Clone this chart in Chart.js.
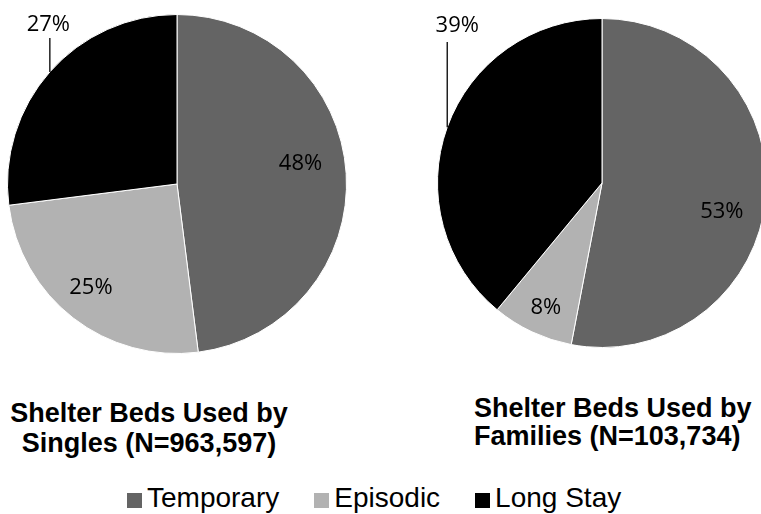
<!DOCTYPE html>
<html>
<head>
<meta charset="utf-8">
<script src="https://cdn.jsdelivr.net/npm/chart.js@4"></script>
<style>
  html, body { margin: 0; padding: 0; background: #fff; }
  body { width: 761px; height: 514px; overflow: hidden; position: relative; font-family: "Liberation Sans", Arial, sans-serif; }
  .box { position: absolute; }
  .ttl { position: absolute; font-weight: bold; font-size: 27px; line-height: 30px; color: #000; white-space: nowrap; }
  #legend { position: absolute; left: 127px; top: 484px; display: flex; align-items: flex-start; font-size: 28px; line-height: 28px; color: #000; white-space: nowrap; }
  .item { display: flex; align-items: flex-end; margin-right: 35px; }
  .sw { width: 15px; height: 15px; margin-right: 5px; margin-bottom: 4px; }
</style>
</head>
<body>
<div class="box" style="left:0;top:0;width:380px;height:370px;"><canvas id="c1" width="380" height="370"></canvas></div>
<div class="box" style="left:380px;top:0;width:400px;height:370px;"><canvas id="c2" width="400" height="370"></canvas></div>

<div class="ttl" id="t1a" style="left:0;width:298px;text-align:center;top:398px;"></div>
<div class="ttl" id="t1b" style="left:0;width:298px;text-align:center;top:428px;"></div>
<div class="ttl" id="t2a" style="left:474px;top:393px;"></div>
<div class="ttl" id="t2b" style="left:474px;top:421px;"></div>

<div id="legend"></div>

<script>
// ---- data ----
const categories = ['Temporary', 'Episodic', 'Long Stay'];
const singlesPct = [48, 25, 27];
const familiesPct = [53, 8, 39];
const singlesTitle = ['Shelter Beds Used by', 'Singles (N=963,597)'];
const familiesTitle = ['Shelter Beds Used by', 'Families (N=103,734)'];
const colors = ['#646464', '#b2b2b2', '#000000'];

// ---- titles & legend (real text) ----
document.getElementById('t1a').textContent = singlesTitle[0];
document.getElementById('t1b').textContent = singlesTitle[1];
document.getElementById('t2a').textContent = familiesTitle[0];
document.getElementById('t2b').textContent = familiesTitle[1];
const lg = document.getElementById('legend');
categories.forEach((c, i) => {
  const it = document.createElement('div'); it.className = 'item';
  const sw = document.createElement('div'); sw.className = 'sw'; sw.style.background = colors[i];
  const tx = document.createElement('span'); tx.textContent = c;
  it.appendChild(sw); it.appendChild(tx); lg.appendChild(it);
});

// ---- label plugin ----
const pctLabels = {
  id: 'pctLabels',
  afterDatasetsDraw(chart, args, opts) {
    const ctx = chart.ctx;
    const meta = chart.getDatasetMeta(0);
    const vals = chart.data.datasets[0].data;
    ctx.save();
    ctx.font = '22px "Open Sans", "Noto Sans", sans-serif';
    ctx.fillStyle = '#000';
    ctx.textAlign = 'center';
    ctx.textBaseline = 'middle';
    meta.data.forEach((arc, i) => {
      const p = arc.getProps(['x', 'y', 'startAngle', 'endAngle', 'outerRadius'], true);
      const mid = (p.startAngle + p.endAngle) / 2;
      const cfg = opts.cfg[i];
      const text = vals[i] + '%';
      if (cfg.outside) {
        const ex = p.x + Math.cos(mid) * p.outerRadius;
        const ey = p.y + Math.sin(mid) * p.outerRadius;
        ctx.strokeStyle = '#000';
        ctx.lineWidth = 1.3;
        ctx.beginPath();
        ctx.moveTo(ex, ey);
        ctx.lineTo(ex, cfg.lineTop);
        ctx.stroke();
        ctx.fillText(text, ex + cfg.dx, cfg.labelY);
      } else {
        const r = p.outerRadius * cfg.frac;
        ctx.fillText(text, p.x + Math.cos(mid) * r + cfg.dx, p.y + Math.sin(mid) * r + cfg.dy);
      }
    });
    ctx.restore();
  }
};

function makePie(id, values, padding, labelCfg) {
  return new Chart(document.getElementById(id), {
    type: 'pie',
    data: {
      labels: categories,
      datasets: [{ data: values, backgroundColor: colors, borderColor: '#ffffff', borderWidth: 1 }]
    },
    options: {
      responsive: false,
      animation: false,
      layout: { padding },
      plugins: {
        legend: { display: false },
        tooltip: { enabled: false },
        pctLabels: { cfg: labelCfg }
      }
    },
    plugins: [pctLabels]
  });
}

makePie('c1', singlesPct, { left: 7, top: 14, right: 33, bottom: 16 }, [
  { frac: 0.73, dx: 0, dy: -12 },
  { frac: 0.80, dx: -3, dy: -3.5 },
  { outside: true, lineTop: 38, labelY: 25, dx: -1.5 }
]);
makePie('c2', familiesPct, { left: 57, top: 18, right: 13, bottom: 22 }, [
  { frac: 0.75, dx: -3, dy: 17 },
  { frac: 0.83, dx: 2, dy: 1 },
  { outside: true, lineTop: 42, labelY: 26, dx: 10 }
]);
</script>
</body>
</html>
